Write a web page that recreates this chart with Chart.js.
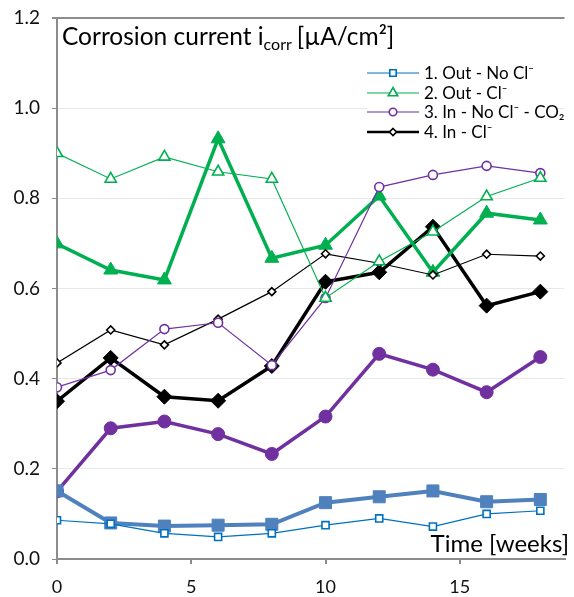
<!DOCTYPE html>
<html>
<head>
<meta charset="utf-8">
<script src="https://cdn.jsdelivr.net/npm/chart.js@4.4.1/dist/chart.umd.min.js"></script>
<style>
  html, body { margin: 0; padding: 0; background: #fff; }
  #wrap { width: 574px; height: 597px; position: relative; }
</style>
</head>
<body>
<div id="wrap"><canvas id="chart" width="574" height="597"></canvas></div>
<script>
// time axis, weeks
const weeks = [0, 2, 4, 6, 8, 10, 12, 14, 16, 18];
const yTicks = [0, 0.2, 0.4, 0.6, 0.8, 1.0, 1.2];
const xTicks = [0, 5, 10, 15];

// thin lines, open markers
const outNoCl_thin  = [0.086, 0.078, 0.057, 0.049, 0.057, 0.075, 0.090, 0.072, 0.100, 0.107];
const outCl_thin    = [0.900, 0.843, 0.892, 0.859, 0.843, 0.579, 0.660, 0.726, 0.804, 0.845];
const inNoCl_thin   = [0.381, 0.419, 0.510, 0.524, 0.430, 0.579, 0.825, 0.852, 0.872, 0.856];
const inCl_thin     = [0.435, 0.508, 0.475, 0.532, 0.593, 0.677, 0.656, 0.630, 0.676, 0.672];

// thick lines, filled markers
const outNoCl_thick = [0.151, 0.080, 0.073, 0.075, 0.077, 0.125, 0.138, 0.151, 0.127, 0.132];
const outCl_thick   = [0.699, 0.641, 0.619, 0.932, 0.667, 0.696, 0.805, 0.636, 0.767, 0.752];
const inNoCl_thick  = [0.150, 0.290, 0.305, 0.277, 0.233, 0.316, 0.455, 0.420, 0.370, 0.448];
const inCl_thick    = [0.350, 0.446, 0.360, 0.351, 0.428, 0.615, 0.636, 0.737, 0.562, 0.593];

const labels = ['1. Out - No Cl\u207B', '2. Out - Cl\u207B', '3. In - No Cl\u207B - CO\u2082', '4. In - Cl\u207B'];

const BLUE = '#0070C0', BLUE2 = '#4F81BD', GREEN = '#00B050', PURPLE = '#7030A0', BLACK = '#000000';

function pts(arr) { return weeks.map((w, i) => ({ x: w, y: arr[i] })); }

function thin(label, arr, color, style, r) {
  return { label, data: pts(arr), borderColor: color, borderWidth: 1.2,
    pointStyle: style, pointRadius: r, pointBorderWidth: 1.6,
    pointBackgroundColor: '#fff', pointBorderColor: color, tension: 0 };
}
function thick(label, arr, color, style, r, w) {
  return { label, data: pts(arr), borderColor: color, borderWidth: w || 3.5,
    pointStyle: style, pointRadius: r, pointBorderWidth: 1,
    pointBackgroundColor: color, pointBorderColor: color, tension: 0 };
}

const datasets = [
  thin(labels[0], outNoCl_thin, BLUE, 'rect', 5),
  thin(labels[1], outCl_thin, GREEN, 'triangle', 6.5),
  thin(labels[2], inNoCl_thin, PURPLE, 'circle', 4.5),
  thin(labels[3], inCl_thin, BLACK, 'rectRot', 4),
  thick('', outNoCl_thick, BLUE2, 'rect', 8.5, 4),
  thick('', outCl_thick, GREEN, 'triangle', 8),
  thick('', inNoCl_thick, PURPLE, 'circle', 6.5),
  thick('', inCl_thick, BLACK, 'rectRot', 7.5),
];

const FONT = 'Lato, "Open Sans", sans-serif';

function marker(ctx, style, x, y, r) {
  ctx.beginPath();
  if (style === 'rect') {
    const s = r * Math.SQRT1_2;
    ctx.rect(x - s, y - s, 2 * s, 2 * s);
  } else if (style === 'triangle') {
    ctx.moveTo(x, y - r);
    ctx.lineTo(x + r * 0.866, y + r * 0.5);
    ctx.lineTo(x - r * 0.866, y + r * 0.5);
    ctx.closePath();
  } else if (style === 'circle') {
    ctx.arc(x, y, r, 0, Math.PI * 2);
  } else {
    ctx.moveTo(x, y - r); ctx.lineTo(x + r, y); ctx.lineTo(x, y + r); ctx.lineTo(x - r, y);
    ctx.closePath();
  }
  ctx.fill();
  ctx.stroke();
}

const overlay = {
  id: 'overlay',
  afterDraw(chart) {
    const ctx = chart.ctx;
    ctx.save();
    ctx.fillStyle = '#000';
    ctx.textBaseline = 'alphabetic';
    // title inside plot
    let x = 62, y = 45;
    ctx.font = '24.5px ' + FONT;
    const t1 = 'Corrosion current i';
    ctx.fillText(t1, x, y); x += ctx.measureText(t1).width;
    ctx.font = '16px ' + FONT;
    ctx.fillText('corr', x, y + 5); x += ctx.measureText('corr').width + 5;
    ctx.font = '24.5px ' + FONT;
    ctx.fillText('[\u00B5A/cm\u00B2]', x, y);
    // axis title
    ctx.textAlign = 'right';
    ctx.font = '24px ' + FONT;
    ctx.fillText('Time [weeks]', 569, 552);

    // legend
    ctx.fillStyle = '#fff';
    ctx.fillRect(367, 60, 190, 82);
    const rows = [73, 93, 112, 132];
    const sizes = [4.5, 5.5, 3.8, 3.5];
    ctx.textAlign = 'left';
    ctx.font = '17px ' + FONT;
    for (let i = 0; i < 4; i++) {
      const ds = chart.data.datasets[i];
      const ry = rows[i];
      ctx.strokeStyle = ds.borderColor;
      ctx.lineWidth = i === 3 ? 2.5 : 1.2;
      ctx.beginPath(); ctx.moveTo(367, ry); ctx.lineTo(419, ry); ctx.stroke();
      ctx.fillStyle = '#fff';
      ctx.lineWidth = 1.6;
      marker(ctx, ds.pointStyle, 393, ry, sizes[i]);
      ctx.fillStyle = '#000';
      ctx.fillText(ds.label, 424, ry + 6);
    }
    ctx.restore();
  }
};

new Chart(document.getElementById('chart'), {
  type: 'line',
  data: { datasets },
  options: {
    responsive: false,
    animation: false,
    devicePixelRatio: 1,
    layout: { padding: { top: 18, right: 1, left: 0, bottom: 0 } },
    plugins: { legend: { display: false }, tooltip: { enabled: false } },
    scales: {
      x: {
        type: 'linear', min: 0, max: 18.9,
        afterBuildTicks: s => { s.ticks = xTicks.map(v => ({ value: v })); },
        afterFit: s => { s.height = 38; s.paddingLeft = 0; s.paddingRight = 0; },
        grid: { color: 'transparent', tickColor: '#8c8c8c', tickLength: 5, lineWidth: 2 },
        border: { color: '#8c8c8c', width: 2 },
        ticks: { color: '#111', font: { family: FONT, size: 18 }, padding: 12, maxRotation: 0 }
      },
      y: {
        min: 0, max: 1.2,
        afterBuildTicks: s => { s.ticks = yTicks.map(v => ({ value: v })); },
        afterFit: s => { s.width = 57; s.paddingTop = 0; s.paddingBottom = 0; },
        grid: {
          color: c => Math.abs(c.tick.value - 1.2) < 1e-6 ? '#8c8c8c' : '#e8e8e8',
          lineWidth: c => Math.abs(c.tick.value - 1.2) < 1e-6 ? 2 : 1,
          tickColor: '#8c8c8c', tickLength: 5
        },
        border: { color: '#8c8c8c', width: 2 },
        ticks: { color: '#111', font: { family: FONT, size: 19 }, padding: 12,
          callback: v => v.toFixed(1) }
      }
    }
  },
  plugins: [overlay]
});
</script>
</body>
</html>
